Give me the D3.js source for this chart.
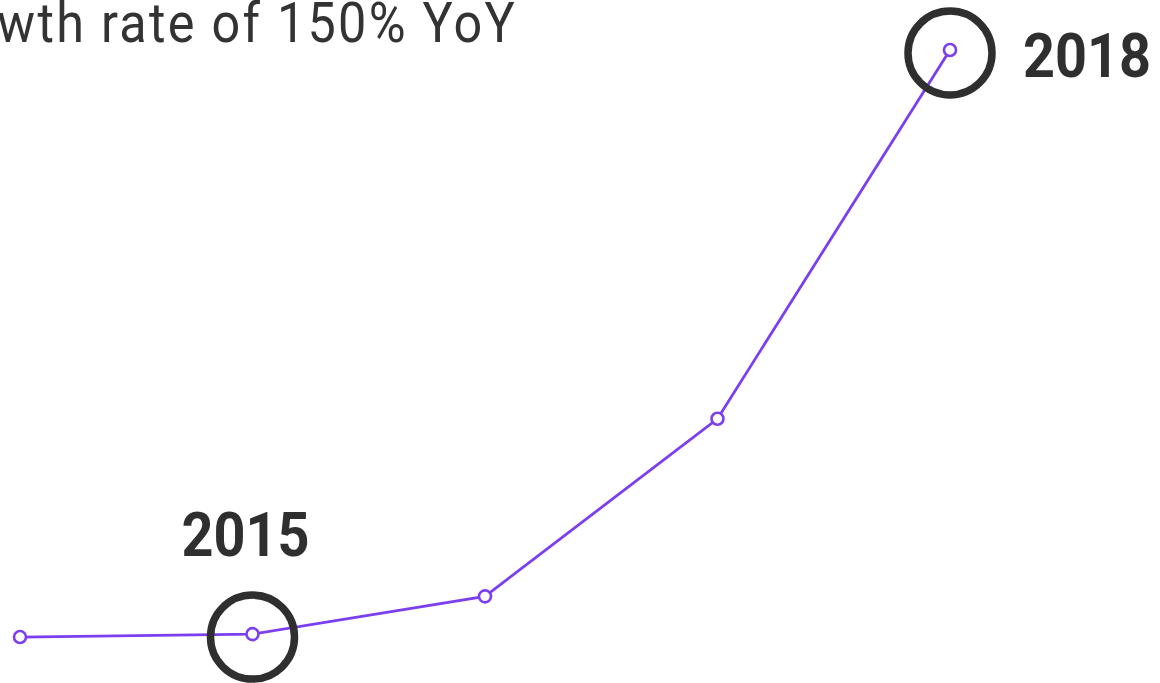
<!DOCTYPE html>
<html>
<head>
<meta charset="utf-8">
<script src="https://cdn.jsdelivr.net/npm/d3@7"></script>
<style>
  html, body { margin: 0; padding: 0; background: #fff; }
  svg { display: block; }
</style>
</head>
<body>
<svg id="chart" width="1160" height="683"></svg>
<script>
// Yearly series
const years = [2014, 2015, 2016, 2017, 2018];
const values = [0.5, 1.0, 7.4, 37.5, 100];
const highlighted = [2015, 2018];
const titleText = "growth rate of 150% YoY";

const svg = d3.select("#chart");

const x = d3.scalePoint().domain(years).range([20, 950]);
const y = d3.scaleLinear().domain([0, 100]).range([640, 50]);

const purple = "#7b3ff0";
const dark = "#2f2f2f";
const titleSqueeze = 0.915; // horizontal squeeze for a condensed look
const labelSqueeze = 0.9;

// Title line (top, runs off the frame on the left)
svg.append("text")
  .attr("transform", `translate(517,42) scale(${titleSqueeze},1)`)
  .attr("text-anchor", "end")
  .attr("font-family", "Roboto")
  .attr("font-weight", 400)
  .attr("font-size", 55)
  .attr("letter-spacing", 2.5)
  .attr("fill", "#333")
  .text(titleText);

// Line
const line = d3.line()
  .x((d, i) => x(years[i]))
  .y(d => y(d));

svg.append("path")
  .datum(values)
  .attr("d", line)
  .attr("fill", "none")
  .attr("stroke", purple)
  .attr("stroke-width", 2.8);

// Highlight rings
const hl = years.map((yr, i) => ({ yr, v: values[i] })).filter(d => highlighted.includes(d.yr));

svg.selectAll("circle.ring")
  .data(hl)
  .enter().append("circle")
  .attr("class", "ring")
  .attr("cx", d => x(d.yr))
  .attr("cy", d => y(d.v) + 3)
  .attr("r", 42)
  .attr("fill", "none")
  .attr("stroke", dark)
  .attr("stroke-width", 7.5);

// Point markers
svg.selectAll("circle.pt")
  .data(values)
  .enter().append("circle")
  .attr("class", "pt")
  .attr("cx", (d, i) => x(years[i]))
  .attr("cy", d => y(d))
  .attr("r", 6)
  .attr("fill", "#fff")
  .attr("stroke", purple)
  .attr("stroke-width", 2.6);

// Year labels for highlighted points
const label = svg.selectAll("text.yr")
  .data(hl)
  .enter().append("text")
  .attr("class", "yr")
  .attr("font-family", "Roboto")
  .attr("font-weight", 700)
  .attr("font-size", 62)
  .attr("fill", dark)
  .text(d => d.yr);

label.filter(d => d.yr === 2015)
  .attr("text-anchor", "middle")
  .attr("transform", d => `translate(${x(d.yr) - 7},${y(d.v) - 78}) scale(${labelSqueeze},1)`);

label.filter(d => d.yr === 2018)
  .attr("text-anchor", "start")
  .attr("transform", d => `translate(${x(d.yr) + 73},${y(d.v) + 27}) scale(${labelSqueeze},1)`);
</script>
</body>
</html>
